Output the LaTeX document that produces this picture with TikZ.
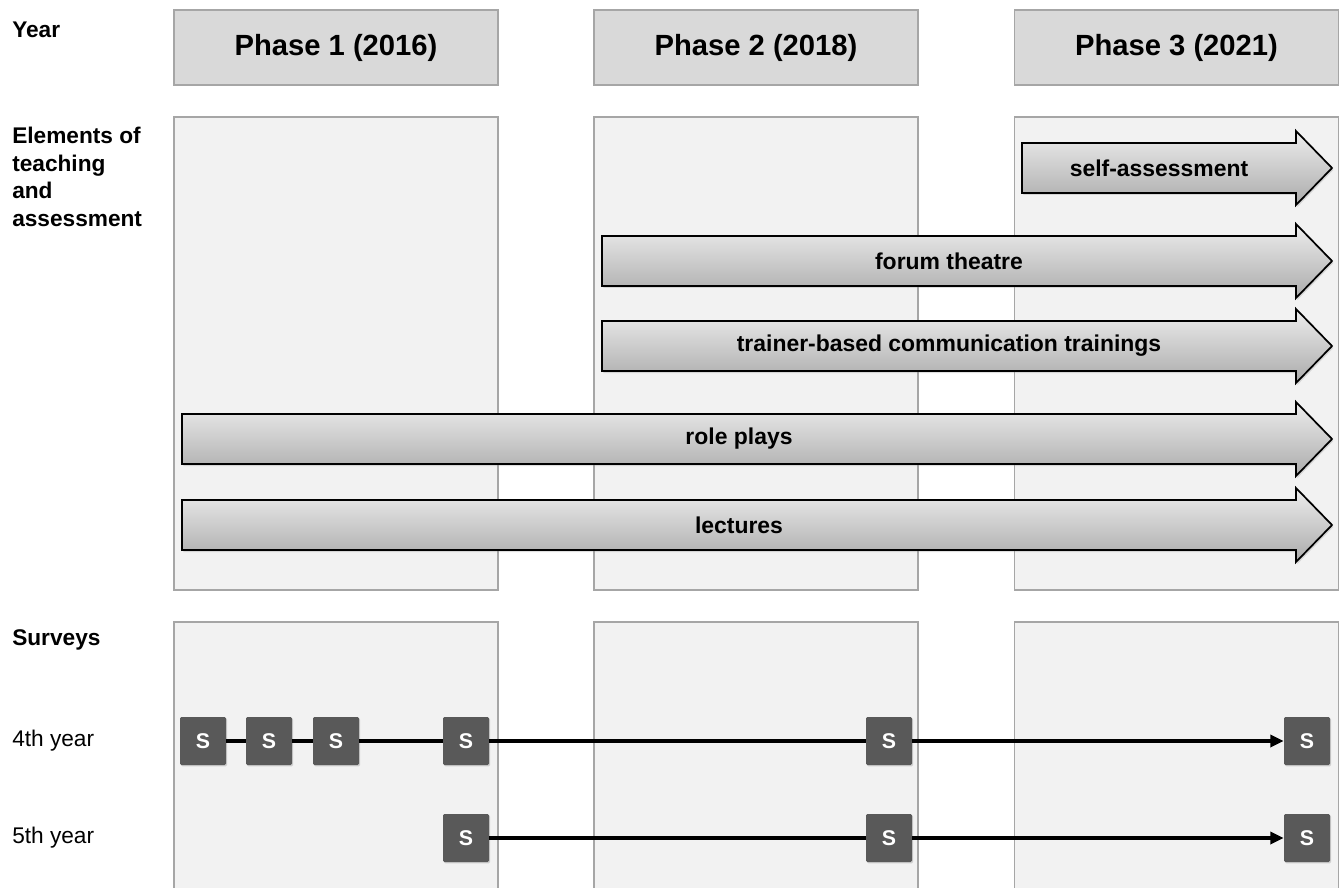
\documentclass[tikz,border=0pt]{standalone}
\usepackage{fontspec}
\setmainfont{Liberation Sans}
\usepackage{tikz}
\usetikzlibrary{arrows.meta,positioning,shadows,calc}

% one grey element arrow: name, left end, middle height, label
\newcommand{\elemarrow}[4]{%
  \filldraw[elem] (#2,#3-25) -- (1296,#3-25) -- (1296,#3-37) -- (1332,#3)
    -- (1296,#3+37) -- (1296,#3+25) -- (#2,#3+25) -- cycle;
  \node[elemtext] (#1) at ({(#2+1296)/2},#3) {#4};}

\begin{document}
\begin{tikzpicture}[x = 0.75pt, y = -0.75pt,
    phasebox/.style = {draw=black!35, line width=1.1pt, fill=black!15, minimum width=243pt, minimum height=56.25pt, font=\bfseries\fontsize{21.9}{26}\selectfont},
    panel/.style = {draw=black!35, line width=1.1pt, fill=black!5, minimum width=243pt},
    rowlabel/.style = {align=left, inner sep=0pt, font=\fontsize{17}{20.6}\selectfont},
    elem/.style = {draw=black, line width=1.3pt, top color=black!7, bottom color=black!33, drop shadow={opacity=0.25, shadow xshift=1pt, shadow yshift=-1.5pt}},
    elemtext/.style = {font=\bfseries\fontsize{17.2}{20}\selectfont},
    survey/.style = {fill=black!65, minimum width=34.5pt, minimum height=36pt, inner sep=0pt, rounded corners=1pt, text=white, font=\bfseries\fontsize{16}{19}\selectfont, drop shadow={opacity=0.3, shadow xshift=0.8pt, shadow yshift=-1pt}},
    flow/.style = {line width=2.8pt},
    flowarr/.style = {flow, -{Triangle[length=10pt, width=9pt]}}
  ]
    \clip (0,0) rectangle (1340,888);
    \fill[white] (0,0) rectangle (1340,888);

    % phases and panels
    \foreach \i/\xc/\yr in {1/336/2016, 2/756/2018, 3/1176.5/2021} {
      \node[phasebox] (phase\i) at (\xc,47.5) {Phase \i\ (\yr)};
      \node[panel, minimum height=354.75pt] (elem\i) at (\xc,353.5) {};
      \node[panel, minimum height=201pt] (surv\i) at (\xc,756) {};
    }

    % row labels
    \node[rowlabel, anchor=base west] (yearlbl) at (12,38) {\bfseries Year};
    \node[rowlabel, anchor=north west] (elemlbl) at (12,127) {\bfseries Elements of\\\bfseries teaching\\\bfseries and\\\bfseries assessment};
    \node[rowlabel, anchor=base west] (survlbl) at (12,645) {\bfseries Surveys};
    \node[rowlabel, anchor=base west] (fourthlbl) at (12,746) {4th year};
    \node[rowlabel, anchor=base west] (fifthlbl) at (12,843) {5th year};

    % elements of teaching
    \elemarrow{selfass}{1022}{168}{self-assessment}
    \elemarrow{forum}{602}{261}{forum theatre}
    \elemarrow{trainer}{602}{346}{trainer-based communication trainings}
    \elemarrow{roleplay}{182}{439}{role plays}
    \elemarrow{lecture}{182}{525}{lectures}

    % surveys
    \node[survey] (s4a) at (203,741) {S};
    \node[survey] (s4b) at (269,741) {S};
    \node[survey] (s4c) at (336,741) {S};
    \node[survey] (s4d) at (466,741) {S};
    \node[survey] (s4e) at (889,741) {S};
    \node[survey] (s4f) at (1307,741) {S};
    \node[survey] (s5a) at (466,838) {S};
    \node[survey] (s5b) at (889,838) {S};
    \node[survey] (s5c) at (1307,838) {S};

    \draw[flow] (s4a) -- (s4b);
    \draw[flow] (s4b) -- (s4c);
    \draw[flow] (s4c) -- (s4d);
    \draw[flow] (s4d) -- (s4e);
    \draw[flowarr] (s4e) -- (s4f);
    \draw[flow] (s5a) -- (s5b);
    \draw[flowarr] (s5b) -- (s5c);
\end{tikzpicture}
\end{document}
